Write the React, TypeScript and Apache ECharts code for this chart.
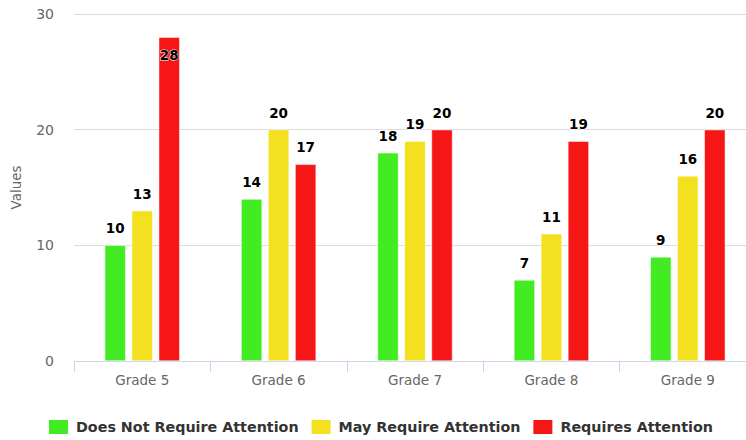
import React, { useEffect, useRef } from "react";
import * as echarts from "echarts";

const categories = ["Grade 5", "Grade 6", "Grade 7", "Grade 8", "Grade 9"];
const seriesNames = ["Does Not Require Attention", "May Require Attention", "Requires Attention"];
const greenValues = [10, 14, 18, 7, 9];
const yellowValues = [13, 20, 19, 11, 16];
const redValues = [28, 17, 20, 19, 20];
const colors = ["#43ec22", "#f3e01e", "#f61616"];
const yMax = 30;
const yInterval = 10;

const FONT = "'DejaVu Sans', Verdana, sans-serif";

export default function App() {
  const ref = useRef<HTMLDivElement>(null);
  useEffect(() => {
    if (!ref.current) return;
    const chart = echarts.init(ref.current, null, { renderer: "svg" });
    const allValues = [greenValues, yellowValues, redValues];
    const mkData = (vals: number[]) =>
      vals.map((v) =>
        v > yMax - 3
          ? { value: v, label: { position: "insideTop", distance: 11 } }
          : v
      );
    chart.setOption({
      animation: false,
      textStyle: { fontFamily: FONT },
      grid: { left: 74, top: 14, width: 682, height: 347, outerBoundsMode: "none", containLabel: false },
      legend: {
        left: 47,
        top: 418,
        width: 720,
        padding: 0,
        itemWidth: 21,
        itemHeight: 16,
        itemGap: 11,
        icon: "rect",
        textStyle: { fontSize: 14.3, fontWeight: "bold", color: "#333", fontFamily: FONT, padding: [0, 0, 0, 2] },
        data: seriesNames,
      },
      xAxis: {
        type: "category",
        data: categories,
        axisLine: { lineStyle: { color: "#ccd6eb", width: 1 } },
        axisTick: { show: true, length: 11, lineStyle: { color: "#ccd6eb" } },
        axisLabel: { color: "#666", fontSize: 13.5, margin: 12, fontFamily: FONT },
      },
      yAxis: {
        type: "value",
        min: 0,
        max: yMax,
        interval: yInterval,
        name: "Values",
        nameLocation: "middle",
        nameGap: 51,
        nameTextStyle: { color: "#666", fontSize: 13.5, fontFamily: FONT },
        axisLine: { show: false },
        axisTick: { show: false },
        axisLabel: { color: "#666", fontSize: 14, margin: 20, fontFamily: FONT },
        splitLine: { lineStyle: { color: "#dcdcdc", width: 1 } },
      },
      series: seriesNames.map((name, i) => ({
        name,
        type: "bar",
        barWidth: 21,
        barGap: "28.6%",
        itemStyle: { color: colors[i], borderColor: "#fff", borderWidth: 0.5 },
        label: {
          show: true,
          position: "top",
          distance: 10,
          color: "#000",
          fontWeight: "bold",
          fontSize: 13.5,
          fontFamily: FONT,
          textBorderColor: "#fff",
          textBorderWidth: 1,
        },
        data: mkData(allValues[i]),
      })),
    });
    return () => chart.dispose();
  }, []);
  return (
    <div
      ref={ref}
      style={{ position: "fixed", left: 0, top: 0, width: 746, height: 440, background: "#fff" }}
    />
  );
}
